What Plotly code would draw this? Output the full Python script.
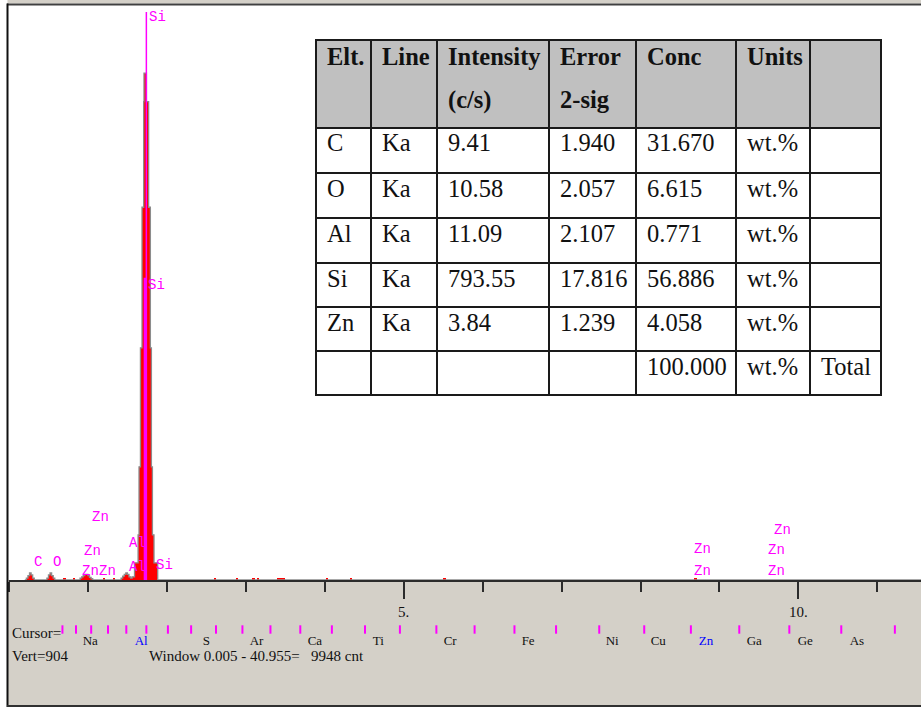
import plotly.graph_objects as go

# ---------------- EDS spectrum ----------------
# channel left edges (keV) and counts, drawn as a filled step histogram
spec_keV = [0.20, 0.22, 0.24, 0.26, 0.28, 0.30, 0.32,
            0.46, 0.48, 0.50, 0.52, 0.54, 0.56, 0.58,
            0.88, 0.90, 0.92, 0.94, 0.96, 0.98, 1.00, 1.02, 1.04, 1.06,
            1.40, 1.42, 1.44, 1.46, 1.48, 1.50, 1.52, 1.54, 1.56,
            1.59, 1.635, 1.647, 1.665, 1.685, 1.706, 1.71, 1.741, 1.769,
            1.791, 1.804, 1.817, 1.837, 1.884,
            11.6]
spec_counts = [0, 3, 7, 11, 8, 3, 0,
               0, 3, 8, 11, 7, 3, 0,
               0, 3, 5, 7, 9, 9, 7, 4, 2, 0,
               0, 3, 6, 9, 11, 9, 5, 3, 5,
               27, 71, 178, 365, 586, 752, 797, 752, 586,
               365, 178, 71, 27, 0,
               0]

# isolated single-channel counts along the baseline
blip_keV = [0.706, 0.832, 1.212, 1.339, 2.618, 2.897, 3.10, 3.163, 3.445, 4.037, 4.341, 5.52, 8.70]
blip_counts = [3, 3, 3, 3, 3, 3, 3, 3, 3, 3, 3, 3, 3]
blip_width = [0.02, 0.02, 0.02, 0.02, 0.02, 0.02, 0.02, 0.02, 0.09, 0.02, 0.02, 0.02, 0.02]

# KLM marker labels: element, line energy (keV), label height (counts)
klm_text = ["C", "O", "Zn", "Zn", "Zn", "Zn", "Al", "Al", "Si", "Si", "Si",
            "Zn", "Zn", "Zn", "Zn", "Zn"]
klm_keV = [0.277, 0.525, 0.884, 0.907, 1.012, 1.107, 1.486, 1.486, 1.740, 1.720, 1.830,
           8.638, 8.638, 9.572, 9.572, 9.650]
klm_height = [28, 28, 14, 46, 99, 14, 58, 20, 885, 464, 24,
              49, 14, 47, 14, 79]

# Si marker lines (keV, height in counts, width px)
si_line_keV = [1.740, 1.722]
si_line_height = [893, 475]
si_line_width = [1.5, 2.5]

# periodic-table cursor bar (K-alpha energies, keV)
bar_keV = [0.677, 0.849, 1.041, 1.254, 1.486, 1.740, 2.013, 2.307, 2.622, 2.957, 3.312,
           3.690, 4.090, 4.510, 4.952, 5.414, 5.898, 6.403, 6.930, 7.477, 8.047, 8.638,
           9.251, 9.885, 10.543, 11.222]
bar_label_text = ["Na", "Al", "S", "Ar", "Ca", "Ti", "Cr", "Fe", "Ni", "Cu", "Zn", "Ga", "Ge", "As"]
bar_label_keV = [0.933, 1.592, 2.454, 3.049, 3.784, 4.607, 5.506, 6.494, 7.558, 8.128,
                 8.737, 9.345, 9.991, 10.65]
bar_label_color = ["#111111", "#0000ff", "#111111", "#111111", "#111111", "#111111", "#111111",
                   "#111111", "#111111", "#111111", "#0000ff", "#111111", "#111111", "#111111"]

# axis ticks
tick_vals = [5, 10]
tick_text = ["5.", "10."]

# ---------------- quantification table ----------------
tbl_header1 = ["Elt.", "Line", "Intensity", "Error", "Conc", "Units", ""]
tbl_header2 = ["", "", "(c/s)", "2-sig", "", "", ""]
elements = ["C", "O", "Al", "Si", "Zn"]
xray_lines = ["Ka", "Ka", "Ka", "Ka", "Ka"]
intensity = [9.41, 10.58, 11.09, 793.55, 3.84]
error_2sig = [1.940, 2.057, 2.107, 17.816, 1.239]
conc = [31.670, 6.615, 0.771, 56.886, 4.058]
units = ["wt.%", "wt.%", "wt.%", "wt.%", "wt.%"]
total_conc = 100.000
total_units = "wt.%"
total_label = "Total"

# ---------------- geometry (pixels) ----------------
W, H = 921, 708
ML, MT, MB = 9, 5, 2
PW, PH = W - ML, H - MT - MB
BASE = 580          # spectrum baseline row
X_MAX = 11.553
Y_MAX = 904
BAR_TOP, BAR_BOT = 620, 645   # cursor-bar strip rows


def fx(px):
    return (px - ML) / PW


def fy(py):
    return (H - MB - py) / PH


fig = go.Figure()

# spectrum: red fill with grey envelope
fig.add_trace(go.Scatter(x=spec_keV, y=spec_counts, mode="lines", line_shape="hv",
                         line=dict(width=0), fill="tozeroy", fillcolor="#ff0000",
                         hoverinfo="skip"))
fig.add_trace(go.Scatter(x=spec_keV, y=spec_counts, mode="lines", line_shape="hv",
                         line=dict(color="#8c8c8c", width=1.3), hoverinfo="skip"))
fig.add_trace(go.Bar(x=blip_keV, y=blip_counts, width=blip_width,
                     marker=dict(color="#ff0000", line=dict(width=0)), hoverinfo="skip"))

# Si marker lines
for e, h, w in zip(si_line_keV, si_line_height, si_line_width):
    fig.add_trace(go.Scatter(x=[e, e], y=[0, h], mode="lines",
                             line=dict(color="#ff00ff", width=w), hoverinfo="skip"))

# cursor bar: element ticks and labels in a strip below the axis (labels clipped at the strip edge)
strip_h = BAR_BOT - BAR_TOP
fig.add_trace(go.Scatter(x=bar_keV, y=[BAR_BOT - 629.5] * len(bar_keV), mode="markers",
                         marker=dict(symbol="line-ns", size=6, line=dict(color="#ff00ff", width=2)),
                         xaxis="x2", yaxis="y2", hoverinfo="skip"))
fig.add_trace(go.Scatter(x=bar_label_keV, y=[BAR_BOT - 642] * len(bar_label_keV), mode="text",
                         text=bar_label_text, textposition="middle right",
                         textfont=dict(family="Liberation Serif", size=13, color=bar_label_color),
                         xaxis="x2", yaxis="y2", cliponaxis=True, hoverinfo="skip"))

annotations = []
for t, e, h in zip(klm_text, klm_keV, klm_height):
    annotations.append(dict(x=e, y=h, xref="x", yref="y", text=t, showarrow=False,
                            xanchor="left", yanchor="middle", xshift=1,
                            font=dict(family="Liberation Mono", size=14, color="#ff00ff")))

shapes = []
# window frame and status panel
shapes.append(dict(type="rect", xref="paper", yref="paper", x0=fx(7.5), x1=fx(W + 2),
                   y0=fy(706), y1=fy(BASE), fillcolor="#d4d0c8", line=dict(width=0), layer="below"))
shapes.append(dict(type="rect", xref="paper", yref="paper", x0=fx(7.5), x1=fx(W + 2),
                   y0=fy(3.5), y1=fy(-2), fillcolor="#d4d0c8", line=dict(width=0), layer="above"))
shapes.append(dict(type="line", xref="paper", yref="paper", x0=fx(7), x1=fx(W + 2),
                   y0=fy(4.5), y1=fy(4.5), line=dict(color="#404040", width=2), layer="above"))
shapes.append(dict(type="line", xref="paper", yref="paper", x0=fx(7.5), x1=fx(7.5),
                   y0=fy(3.5), y1=fy(707), line=dict(color="#101010", width=2), layer="above"))
shapes.append(dict(type="line", xref="paper", yref="paper", x0=fx(7), x1=fx(W + 2),
                   y0=fy(706), y1=fy(706), line=dict(color="#303030", width=2), layer="above"))

# table
col_px = [316, 371, 437, 549, 636, 736, 810, 881]
row_px = [40, 128, 173, 218, 263, 307, 351, 395]
shapes.append(dict(type="rect", xref="paper", yref="paper", x0=fx(col_px[0]), x1=fx(col_px[-1]),
                   y0=fy(row_px[1]), y1=fy(row_px[0]), fillcolor="#c0c0c0", line=dict(width=0), layer="above"))
shapes.append(dict(type="rect", xref="paper", yref="paper", x0=fx(col_px[0]), x1=fx(col_px[-1]),
                   y0=fy(row_px[-1]), y1=fy(row_px[1]), fillcolor="#ffffff", line=dict(width=0), layer="above"))
for c in col_px:
    shapes.append(dict(type="line", xref="paper", yref="paper", x0=fx(c), x1=fx(c),
                       y0=fy(row_px[0] - 1), y1=fy(row_px[-1] + 1), line=dict(color="#1a1a1a", width=2), layer="above"))
for r in row_px:
    shapes.append(dict(type="line", xref="paper", yref="paper", x0=fx(col_px[0] - 1), x1=fx(col_px[-1] + 1),
                       y0=fy(r), y1=fy(r), line=dict(color="#1a1a1a", width=2), layer="above"))

tfont = dict(family="Liberation Serif", size=24.5, color="#111111")


def cell(text, col, ypx, bold=False):
    annotations.append(dict(x=fx(col_px[col] + 9), y=fy(ypx), xref="paper", yref="paper",
                            text=("<b>%s</b>" % text) if (bold and text) else text,
                            showarrow=False, xanchor="left", yanchor="middle", font=tfont))


for i, t in enumerate(tbl_header1):
    if t:
        cell(t, i, row_px[0] + 16, bold=True)
for i, t in enumerate(tbl_header2):
    if t:
        cell(t, i, row_px[0] + 60, bold=True)
for k in range(len(elements)):
    ypx = row_px[k + 1] + 15
    cell(elements[k], 0, ypx)
    cell(xray_lines[k], 1, ypx)
    cell("%.2f" % intensity[k], 2, ypx)
    cell("%.3f" % error_2sig[k], 3, ypx)
    cell("%.3f" % conc[k], 4, ypx)
    cell(units[k], 5, ypx)
ypx = row_px[len(elements) + 1] + 15
cell("%.3f" % total_conc, 4, ypx)
cell(total_units, 5, ypx)
cell(total_label, 6, ypx)

# status texts
sfont = dict(family="Liberation Serif", size=15, color="#111111")
annotations.append(dict(x=fx(10), y=fy(633), xref="paper", yref="paper", text="Cursor=",
                        showarrow=False, xanchor="left", yanchor="middle", font=sfont))
annotations.append(dict(x=fx(10), y=fy(656), xref="paper", yref="paper", text="Vert=%d" % Y_MAX,
                        showarrow=False, xanchor="left", yanchor="middle", font=sfont))
annotations.append(dict(x=fx(147), y=fy(656), xref="paper", yref="paper",
                        text="Window 0.005 - 40.955=\u00a0\u00a0\u00a09948 cnt",
                        showarrow=False, xanchor="left", yanchor="middle", font=sfont))

fig.update_layout(
    width=W, height=H,
    margin=dict(l=ML, r=0, t=MT, b=MB, pad=0),
    paper_bgcolor="#ffffff", plot_bgcolor="#ffffff",
    showlegend=False, bargap=0,
    xaxis=dict(range=[0, X_MAX], domain=[0, 1], anchor="y", showgrid=False, zeroline=False,
               showline=True, linecolor="#2b2b2b", linewidth=2,
               ticks="outside", ticklen=17, tickwidth=1.5, tickcolor="#2b2b2b",
               tickmode="array", tickvals=tick_vals, ticktext=tick_text,
               tickfont=dict(family="Liberation Serif", size=15, color="#111111"),
               minor=dict(ticks="outside", ticklen=10, tickwidth=1.5, tickcolor="#2b2b2b",
                          tickmode="linear", tick0=0, dtick=1, showgrid=False),
               fixedrange=True),
    yaxis=dict(range=[0, Y_MAX], domain=[fy(BASE), 1], visible=False, fixedrange=True),
    xaxis2=dict(range=[0, X_MAX], domain=[0, 1], anchor="y2", matches="x", visible=False,
                fixedrange=True),
    yaxis2=dict(range=[0, strip_h], domain=[fy(BAR_BOT), fy(BAR_TOP)], anchor="x2", visible=False,
                fixedrange=True),
    shapes=shapes, annotations=annotations,
)
# the cursor strip must not paint over the grey panel
fig.update_layout(plot_bgcolor="rgba(0,0,0,0)")
fig.add_shape(type="rect", xref="x", yref="y", x0=0, x1=X_MAX, y0=0, y1=Y_MAX,
              fillcolor="#ffffff", line=dict(width=0), layer="below")

fig.write_html("out.html")
